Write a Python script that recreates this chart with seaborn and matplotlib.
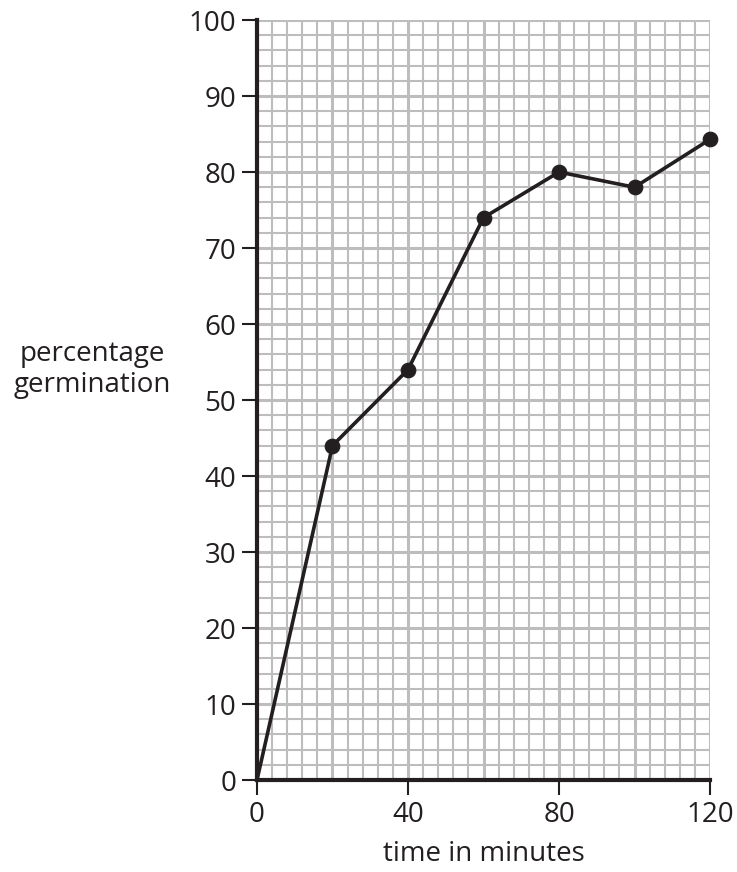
import matplotlib
matplotlib.use("Agg")
import matplotlib.pyplot as plt
import pandas as pd
import seaborn as sns
from matplotlib.ticker import MultipleLocator

# Data
time_min = [0, 20, 40, 60, 80, 100, 120]
germination = [0, 44, 54, 74, 80, 78, 84.3]
df = pd.DataFrame({'time': time_min, 'germ': germination})

sns.set_style('white')
plt.rcParams['font.family'] = ['Open Sans', 'DejaVu Sans']

fig = plt.figure(figsize=(7.37, 8.72), dpi=100)
ax = fig.add_axes([0.3487, 0.1055, 0.6147, 0.8715])

grid_col = '#bdbdbd'
ax.xaxis.set_major_locator(MultipleLocator(40))
ax.yaxis.set_major_locator(MultipleLocator(10))

# graph paper grid
for v in range(0, 121, 4):
    ax.axvline(v, color=grid_col, lw=2.2 if v % 20 == 0 else 1.5, zorder=0)
for v in range(0, 101, 2):
    ax.axhline(v, color=grid_col, lw=2.2 if v % 10 == 0 else 1.5, zorder=0)

ink = '#231f20'
sns.lineplot(data=df, x='time', y='germ', ax=ax, color=ink, lw=2.6, zorder=3)
# the origin is not marked with a dot
sns.scatterplot(data=df.iloc[1:], x='time', y='germ', ax=ax, color=ink,
                s=110, edgecolor=ink, zorder=4, clip_on=False)

ax.set_xlim(0, 120)
ax.set_ylim(0, 100)
for s in ['top', 'right']:
    ax.spines[s].set_visible(False)
for s in ['left', 'bottom']:
    ax.spines[s].set_color(ink)
    ax.spines[s].set_linewidth(3)
    ax.spines[s].set_zorder(5)

ax.tick_params(which='major', direction='out', length=11, width=1.5,
               color=ink, labelsize=20, labelcolor=ink, pad=4,
               left=True, bottom=True)

ax.set_xlabel('time in minutes', fontsize=20, color=ink, labelpad=8)
ax.set_ylabel('percentage\ngermination', fontsize=20, color=ink,
              rotation=0, ha='center', va='center', linespacing=1.15)
ax.yaxis.set_label_coords(-0.364, 0.54)

fig.savefig('out.png', dpi=100)
